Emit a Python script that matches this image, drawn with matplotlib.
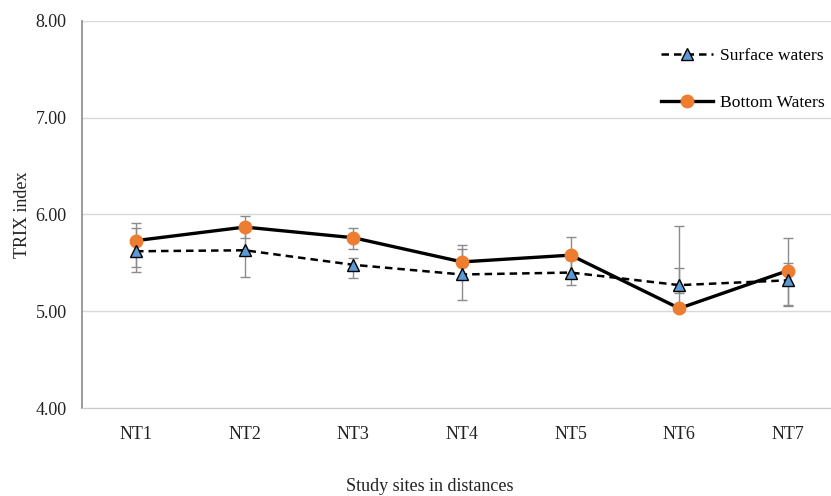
import matplotlib.pyplot as plt
import numpy as np

# TRIX index per study site
sites = ['NT1', 'NT2', 'NT3', 'NT4', 'NT5', 'NT6', 'NT7']
surface = [5.62, 5.63, 5.48, 5.38, 5.40, 5.27, 5.32]
surface_err_lo = [0.21, 0.28, 0.14, 0.26, 0.13, 0.085, 0.27]
surface_err_hi = [0.24, 0.28, 0.07, 0.26, 0.13, 0.61, 0.18]
bottom = [5.73, 5.87, 5.76, 5.51, 5.58, 5.03, 5.42]
bottom_err_lo = [0.27, 0.11, 0.12, 0.17, 0.19, 0.0, 0.36]
bottom_err_hi = [0.18, 0.11, 0.10, 0.17, 0.19, 0.42, 0.34]

plt.rcParams['font.family'] = ['Liberation Serif', 'DejaVu Serif']

fig = plt.figure(figsize=(8.31, 4.96), dpi=100)
ax = fig.add_axes([0.0987, 0.1774, 0.9013, 0.7803])

x = np.arange(len(sites))

# error bars first so the markers sit on top
ax.errorbar(x, surface, yerr=[surface_err_lo, surface_err_hi], fmt='none',
            ecolor='#8c8c8c', elinewidth=1.0, capsize=3.5, capthick=1.0, zorder=2)
ax.errorbar(x, bottom, yerr=[bottom_err_lo, bottom_err_hi], fmt='none',
            ecolor='#8c8c8c', elinewidth=1.0, capsize=3.5, capthick=1.0, zorder=2)

ax.plot(x, surface, color='black', linestyle=(0, (3, 2)), linewidth=1.8,
        marker='^', markersize=8, markerfacecolor='#5B9BD5',
        markeredgecolor='black', markeredgewidth=1.0,
        label='Surface waters', zorder=4)
ax.plot(x, bottom, color='black', linestyle='-', linewidth=2.4,
        marker='o', markersize=9, markerfacecolor='#ED7D31',
        markeredgecolor='#ED7D31', label='Bottom Waters', zorder=3)

ax.set_xlim(-0.497, 6.396)
ax.set_ylim(4, 8)
ax.set_yticks([4, 5, 6, 7, 8])
ax.set_yticklabels(['4.00', '5.00', '6.00', '7.00', '8.00'])
ax.set_xticks(x)
ax.set_xticklabels(sites)
ax.tick_params(axis='both', length=0, labelsize=13, colors='#222222')
ax.tick_params(axis='x', pad=13)
ax.tick_params(axis='y', pad=11)

ax.grid(axis='y', color='#d9d9d9', linewidth=1.0)
ax.set_axisbelow(True)
for side in ['top', 'right']:
    ax.spines[side].set_visible(False)
ax.spines['left'].set_color('#8a8a8a')
ax.spines['bottom'].set_color('#c8c8c8')
ax.spines['left'].set_linewidth(1.2)

ax.set_ylabel('TRIX index', fontsize=13, color='#222222', va='center')
ax.yaxis.set_label_coords(-0.08, 0.5)
fig.text(0.517, 0.02, 'Study sites in distances', ha='center', va='center',
         fontsize=13, color='#222222')

leg = ax.legend(loc='upper right', bbox_to_anchor=(1.013, 0.972), frameon=False,
                fontsize=12.6, labelspacing=1.75, handlelength=3.0, handletextpad=0.4)

fig.savefig('out.png', dpi=100)
